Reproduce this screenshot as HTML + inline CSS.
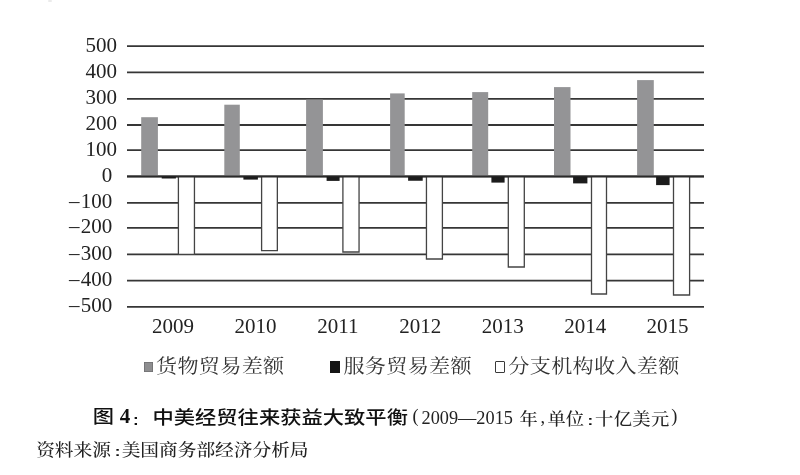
<!DOCTYPE html>
<html><head><meta charset="utf-8">
<style>
html,body{margin:0;padding:0;background:#fff;}
body{width:800px;height:475px;overflow:hidden;position:relative;}
svg{position:absolute;left:0;top:0;}
.num{font-family:"Liberation Serif",serif;font-size:21px;fill:#222;}
.t{position:absolute;white-space:nowrap;line-height:1;}
.sq{position:absolute;}
</style></head><body>
<svg width="800" height="475" viewBox="0 0 800 475">
<line x1="127" x2="704" y1="46.10" y2="46.10" stroke="#363636" stroke-width="1.8"/>
<line x1="127" x2="704" y1="72.40" y2="72.40" stroke="#363636" stroke-width="1.8"/>
<line x1="127" x2="704" y1="98.80" y2="98.80" stroke="#363636" stroke-width="1.8"/>
<line x1="127" x2="704" y1="125.00" y2="125.00" stroke="#363636" stroke-width="1.8"/>
<line x1="127" x2="704" y1="150.20" y2="150.20" stroke="#363636" stroke-width="1.8"/>
<line x1="127" x2="704" y1="176.40" y2="176.40" stroke="#363636" stroke-width="1.8"/>
<line x1="127" x2="704" y1="202.80" y2="202.80" stroke="#363636" stroke-width="1.8"/>
<line x1="127" x2="704" y1="227.90" y2="227.90" stroke="#363636" stroke-width="1.8"/>
<line x1="127" x2="704" y1="254.40" y2="254.40" stroke="#363636" stroke-width="1.8"/>
<line x1="127" x2="704" y1="280.60" y2="280.60" stroke="#363636" stroke-width="1.8"/>
<line x1="127" x2="704" y1="306.90" y2="306.90" stroke="#363636" stroke-width="1.8"/>
<rect x="141.2" y="117.2" width="16.70" height="59.30" fill="#949496"/>
<rect x="224.3" y="104.7" width="15.50" height="71.80" fill="#949496"/>
<rect x="306.1" y="99.7" width="16.80" height="76.80" fill="#949496"/>
<rect x="390.1" y="93.4" width="14.60" height="83.10" fill="#949496"/>
<rect x="472.2" y="92.1" width="16.00" height="84.40" fill="#949496"/>
<rect x="554.0" y="87.1" width="16.50" height="89.40" fill="#949496"/>
<rect x="637.1" y="80.1" width="16.70" height="96.40" fill="#949496"/>
<rect x="178.4" y="176.50" width="16.05" height="77.90" fill="#fff"/>
<path d="M178.4,176.50V254.4H194.45V176.50" fill="none" stroke="#444" stroke-width="1.3"/>
<rect x="261.6" y="176.50" width="15.75" height="74.10" fill="#fff"/>
<path d="M261.6,176.50V250.6H277.35V176.50" fill="none" stroke="#444" stroke-width="1.3"/>
<rect x="342.9" y="176.50" width="16.15" height="75.50" fill="#fff"/>
<path d="M342.9,176.50V252H359.05V176.50" fill="none" stroke="#444" stroke-width="1.3"/>
<rect x="426.45" y="176.50" width="15.95" height="82.50" fill="#fff"/>
<path d="M426.45,176.50V259H442.4V176.50" fill="none" stroke="#444" stroke-width="1.3"/>
<rect x="508.3" y="176.50" width="16.00" height="90.50" fill="#fff"/>
<path d="M508.3,176.50V267H524.3V176.50" fill="none" stroke="#444" stroke-width="1.3"/>
<rect x="591.5" y="176.50" width="15.00" height="117.50" fill="#fff"/>
<path d="M591.5,176.50V294H606.5V176.50" fill="none" stroke="#444" stroke-width="1.3"/>
<rect x="673.5" y="176.50" width="16.10" height="118.50" fill="#fff"/>
<path d="M673.5,176.50V295H689.6V176.50" fill="none" stroke="#444" stroke-width="1.3"/>
<line x1="127" x2="704" y1="176.5" y2="176.5" stroke="#2a2a2a" stroke-width="1.9"/>
<rect x="161.7" y="176.5" width="14.20" height="2.00" fill="#1c1c1c"/>
<rect x="243.4" y="176.5" width="14.50" height="3.10" fill="#1c1c1c"/>
<rect x="326.6" y="176.5" width="13.00" height="4.40" fill="#1c1c1c"/>
<rect x="408.1" y="176.5" width="14.60" height="4.25" fill="#1c1c1c"/>
<rect x="491.4" y="176.5" width="13.20" height="6.10" fill="#1c1c1c"/>
<rect x="573.1" y="176.5" width="14.30" height="6.90" fill="#1c1c1c"/>
<rect x="656.1" y="176.5" width="13.50" height="8.60" fill="#1c1c1c"/>
<text x="117" y="51.50" text-anchor="end" class="num">500</text>
<text x="117" y="77.80" text-anchor="end" class="num">400</text>
<text x="117" y="104.20" text-anchor="end" class="num">300</text>
<text x="117" y="130.40" text-anchor="end" class="num">200</text>
<text x="117" y="155.60" text-anchor="end" class="num">100</text>
<text x="112.3" y="181.80" text-anchor="end" class="num">0</text>
<text x="112.3" y="208.20" text-anchor="end" class="num">–<tspan dx="1.2">100</tspan></text>
<text x="112.3" y="233.30" text-anchor="end" class="num">–<tspan dx="1.2">200</tspan></text>
<text x="112.3" y="259.80" text-anchor="end" class="num">–<tspan dx="1.2">300</tspan></text>
<text x="112.3" y="286.00" text-anchor="end" class="num">–<tspan dx="1.2">400</tspan></text>
<text x="112.3" y="312.30" text-anchor="end" class="num">–<tspan dx="1.2">500</tspan></text>
<text x="173.10" y="333.1" text-anchor="middle" class="num">2009</text>
<text x="255.52" y="333.1" text-anchor="middle" class="num">2010</text>
<text x="337.94" y="333.1" text-anchor="middle" class="num">2011</text>
<text x="420.36" y="333.1" text-anchor="middle" class="num">2012</text>
<text x="502.78" y="333.1" text-anchor="middle" class="num">2013</text>
<text x="585.20" y="333.1" text-anchor="middle" class="num">2014</text>
<text x="667.62" y="333.1" text-anchor="middle" class="num">2015</text>
</svg>
<div class="sq" style="left:48px;top:0;width:4px;height:1.5px;background:#ebebeb;border-radius:1px;"></div>
<div class="sq" style="left:144.1px;top:361.6px;width:8.8px;height:10.1px;background:#8e8e90;box-shadow:inset 0 0 0 0.8px #707072;"></div>
<div class="sq" style="left:330.1px;top:361.2px;width:9.9px;height:11.6px;background:#151515;"></div>
<div class="sq" style="left:494.9px;top:361.0px;width:10.2px;height:11.9px;border:1.4px solid #3a3a3a;border-radius:1px;box-sizing:border-box;"></div>
<div class="t" style="left:156.00px;top:357.50px;font-family:'Liberation Serif','Noto Serif CJK SC',serif;font-size:21.1px;letter-spacing:0.33px;color:#333;transform:scaleY(0.91);transform-origin:0 0;">货物贸易差额</div>
<div class="t" style="left:343.40px;top:357.50px;font-family:'Liberation Serif','Noto Serif CJK SC',serif;font-size:21.1px;letter-spacing:0.33px;color:#333;transform:scaleY(0.91);transform-origin:0 0;">服务贸易差额</div>
<div class="t" style="left:508.30px;top:357.50px;font-family:'Liberation Serif','Noto Serif CJK SC',serif;font-size:21.1px;letter-spacing:0.33px;color:#333;transform:scaleY(0.91);transform-origin:0 0;">分支机构收入差额</div>
<div class="t" style="left:92.80px;top:407.70px;font-family:'Liberation Sans','Noto Sans CJK SC',sans-serif;font-weight:500;font-size:21.3px;color:#111;transform:scaleY(0.86);transform-origin:0 0;">图</div>
<div class="t" style="left:119.70px;top:405.70px;font-family:'Liberation Serif',serif;font-weight:bold;font-size:21px;color:#111;">4</div>
<div class="t" style="left:133.00px;top:414.30px;font-family:'Liberation Sans',sans-serif;font-weight:bold;font-size:17px;color:#111;transform:scaleY(0.82);transform-origin:0 0;">:</div>
<div class="t" style="left:152.40px;top:408.60px;font-family:'Liberation Sans','Noto Sans CJK SC',sans-serif;font-weight:500;font-size:21.3px;color:#111;transform:scaleY(0.86);transform-origin:0 0;">中美经贸往来获益大致平衡</div>
<div class="t" style="left:412.50px;top:406.50px;font-family:'Liberation Serif','Noto Serif CJK SC',serif;font-weight:500;font-size:18.3px;color:#222;">(</div>
<div class="t" style="left:421.50px;top:409.00px;font-family:'Liberation Serif','Noto Serif CJK SC',serif;font-weight:500;font-size:18.3px;color:#222;">2009—2015</div>
<div class="t" style="left:519.50px;top:410.50px;font-family:'Liberation Serif','Noto Serif CJK SC',serif;font-weight:500;font-size:18.3px;color:#222;transform:scaleY(0.92);transform-origin:0 0;">年</div>
<div class="t" style="left:540.60px;top:408.30px;font-family:'Liberation Serif','Noto Serif CJK SC',serif;font-weight:500;font-size:18.3px;color:#222;">,</div>
<div class="t" style="left:547.50px;top:410.50px;font-family:'Liberation Serif','Noto Serif CJK SC',serif;font-weight:500;font-size:18.3px;color:#222;transform:scaleY(0.92);transform-origin:0 0;">单位</div>
<div class="t" style="left:587.60px;top:414.60px;font-family:'Liberation Sans',sans-serif;font-weight:bold;font-size:17px;color:#111;transform:scaleY(0.72);transform-origin:0 0;">:</div>
<div class="t" style="left:595.00px;top:410.50px;font-family:'Liberation Serif','Noto Serif CJK SC',serif;font-weight:500;font-size:18.3px;letter-spacing:0.35px;color:#222;transform:scaleY(0.92);transform-origin:0 0;">十亿美元</div>
<div class="t" style="left:671.30px;top:406.50px;font-family:'Liberation Serif','Noto Serif CJK SC',serif;font-weight:500;font-size:18.3px;color:#222;">)</div>
<div class="t" style="left:36.20px;top:442.00px;font-family:'Liberation Serif','Noto Serif CJK SC',serif;font-weight:500;font-size:18.7px;color:#222;transform:scaleY(0.92);transform-origin:0 0;">资料来源</div>
<div class="t" style="left:114.80px;top:446.10px;font-family:'Liberation Sans',sans-serif;font-weight:bold;font-size:17px;color:#111;transform:scaleY(0.74);transform-origin:0 0;">:</div>
<div class="t" style="left:121.70px;top:442.00px;font-family:'Liberation Serif','Noto Serif CJK SC',serif;font-weight:500;font-size:18.7px;color:#222;transform:scaleY(0.92);transform-origin:0 0;">美国商务部经济分析局</div>
</body></html>
